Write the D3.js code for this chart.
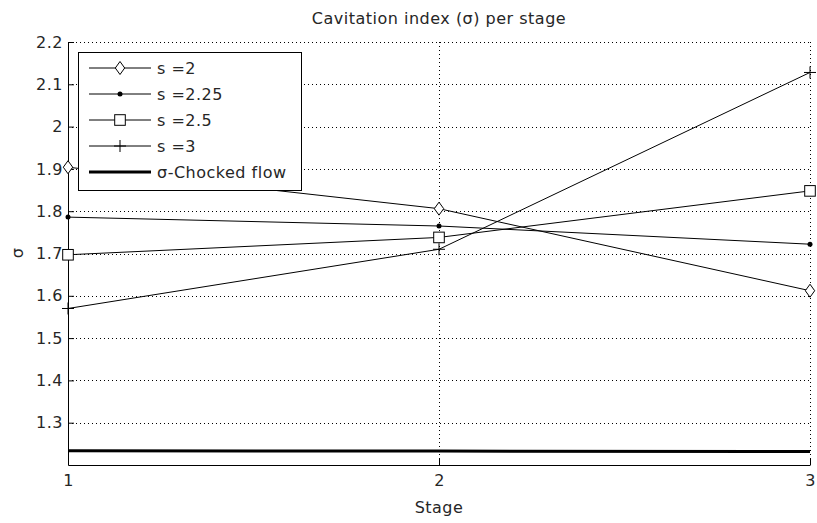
<!DOCTYPE html>
<html>
<head>
<meta charset="utf-8">
<script src="https://cdn.jsdelivr.net/npm/d3@7"></script>
<style>
  body { margin: 0; background: #fff; }
  svg { display: block; }
  text { font-family: "DejaVu Sans", sans-serif; fill: #262626; letter-spacing: 0.5px; }
</style>
</head>
<body>
<svg id="chart" width="817" height="523"></svg>
<script>
// ---- Data ----
const stages = [1, 2, 3];
const sigma_s2   = [1.904, 1.806, 1.612];
const sigma_s225 = [1.786, 1.765, 1.722];
const sigma_s25  = [1.697, 1.738, 1.848];
const sigma_s3   = [1.570, 1.710, 2.128];
const sigma_choked = [1.2335, 1.233, 1.2318];
const yTicks = [1.3, 1.4, 1.5, 1.6, 1.7, 1.8, 1.9, 2.0, 2.1, 2.2];
const xTicks = [1, 2, 3];
const seriesNames = ["s =2", "s =2.25", "s =2.5", "s =3", "σ-Chocked flow"];
const titleText = "Cavitation index (σ) per stage";
const xLabel = "Stage";
const yLabel = "σ";

const series = [
  { name: seriesNames[0], values: sigma_s2, marker: "diamond", width: 1 },
  { name: seriesNames[1], values: sigma_s225, marker: "dot", width: 1 },
  { name: seriesNames[2], values: sigma_s25, marker: "square", width: 1 },
  { name: seriesNames[3], values: sigma_s3, marker: "plus", width: 1 },
  { name: seriesNames[4], values: sigma_choked, marker: "none", width: 3 }
];

// ---- Layout ----
const FONT = "DejaVu Sans, sans-serif";
const FS = 16;
const svg = d3.select("#chart");
const pL = 68, pR = 810, pT = 42, pB = 465;
const x = d3.scaleLinear().domain([1, 3]).range([pL, pR]);
const y = d3.scaleLinear().domain([1.2, 2.2]).range([pB, pT]);

// grid
const grid = svg.append("g").attr("stroke", "#000").attr("stroke-width", 1)
  .attr("stroke-dasharray", "1,3").attr("shape-rendering", "crispEdges");
yTicks.forEach(t => {
  grid.append("line").attr("x1", pL).attr("x2", pR)
    .attr("y1", Math.round(y(t)) + 0.5).attr("y2", Math.round(y(t)) + 0.5);
});
xTicks.forEach(t => {
  if (t === 1) return;
  grid.append("line").attr("y1", pT).attr("y2", pB)
    .attr("x1", Math.round(x(t)) + 0.5).attr("x2", Math.round(x(t)) + 0.5);
});

// axes
const xAxis = d3.axisBottom(x).tickValues(xTicks).tickFormat(d3.format("d"))
  .tickSizeInner(-6).tickSizeOuter(0).tickPadding(10);
const gx = svg.append("g").attr("transform", `translate(0,${pB})`).call(xAxis);
gx.attr("font-size", FS).attr("font-family", FONT);
gx.select(".domain").attr("stroke", "#000");
gx.selectAll("text").attr("font-size", FS).attr("fill", "#262626").attr("font-family", FONT);

const yAxis = d3.axisLeft(y).tickValues(yTicks).tickFormat(d => d === 2 ? "2" : d3.format(".1f")(d))
  .tickSizeInner(-6).tickSizeOuter(0).tickPadding(5);
const gy = svg.append("g").attr("transform", `translate(${pL},0)`).call(yAxis);
gy.attr("font-size", FS).attr("font-family", FONT);
gy.select(".domain").attr("stroke", "#000");
gy.selectAll("text").attr("font-size", FS).attr("fill", "#262626").attr("font-family", FONT);
gy.selectAll("line").attr("stroke", "#000");
gx.selectAll("line").attr("stroke", "#000");

// lines
const line = d3.line().x((d, i) => x(stages[i])).y(d => y(d));
const plot = svg.append("g");

function drawMarker(g, type, cx, cy) {
  if (type === "diamond") {
    g.append("path").attr("d", `M${cx},${cy-6.5}L${cx+4.7},${cy}L${cx},${cy+6.5}L${cx-4.7},${cy}Z`)
      .attr("fill", "#fff").attr("stroke", "#000").attr("stroke-width", 1);
  } else if (type === "dot") {
    g.append("circle").attr("cx", cx).attr("cy", cy).attr("r", 2.5).attr("fill", "#000");
  } else if (type === "square") {
    g.append("rect").attr("x", cx - 5.3).attr("y", cy - 5.3).attr("width", 10.6).attr("height", 10.6)
      .attr("fill", "#fff").attr("stroke", "#000").attr("stroke-width", 1);
  } else if (type === "plus") {
    g.append("path").attr("d", `M${cx-6},${cy}H${cx+6}M${cx},${cy-6}V${cy+6}`)
      .attr("stroke", "#000").attr("stroke-width", 1);
  }
}

series.forEach(s => {
  plot.append("path").datum(s.values).attr("d", line).attr("fill", "none")
    .attr("stroke", "#000").attr("stroke-width", s.width);
});
series.forEach(s => {
  s.values.forEach((v, i) => drawMarker(plot, s.marker, x(stages[i]), y(v)));
});

// legend
const lg = svg.append("g");
lg.append("rect").attr("x", 78.5).attr("y", 52.5).attr("width", 223).attr("height", 138)
  .attr("fill", "#fff").attr("stroke", "#000").attr("stroke-width", 1);
const rowY = [68, 94, 120, 146, 172];
series.forEach((s, i) => {
  const ry = rowY[i];
  lg.append("line").attr("x1", 89).attr("x2", 151).attr("y1", ry).attr("y2", ry)
    .attr("stroke", "#000").attr("stroke-width", s.width);
  drawMarker(lg, s.marker, 120, ry);
  lg.append("text").attr("x", 157).attr("y", ry).attr("dy", "0.36em")
    .attr("font-size", FS).text(s.name);
});

// title & labels
svg.append("text").attr("x", (pL + pR) / 2).attr("y", 18).attr("dy", "0.36em")
  .attr("text-anchor", "middle").attr("font-size", FS).text(titleText);
svg.append("text").attr("x", (pL + pR) / 2).attr("y", 507).attr("dy", "0.36em")
  .attr("text-anchor", "middle").attr("font-size", FS).text(xLabel);
svg.append("text").attr("transform", "translate(17,253) rotate(-90)").attr("dy", "0.36em")
  .attr("text-anchor", "middle").attr("font-size", FS).text(yLabel);
</script>
</body>
</html>
